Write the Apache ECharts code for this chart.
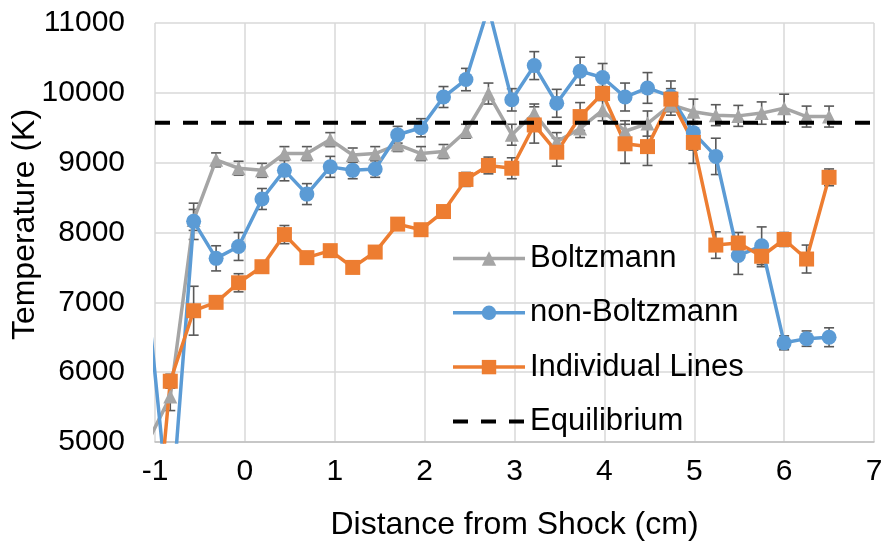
<!DOCTYPE html>
<html>
<head>
<meta charset="utf-8">
<script src="https://cdn.jsdelivr.net/npm/echarts@6/dist/echarts.min.js"></script>
<style>html,body{margin:0;padding:0;background:#fff}#c{width:884px;height:543px}</style>
</head>
<body>
<div id="c"></div>
<script>
// Distance from shock (cm); first point lies just left of the axis range
const distance = [-1.08, -0.83, -0.57, -0.32, -0.07, 0.19, 0.44, 0.69, 0.95, 1.2, 1.45, 1.7, 1.96, 2.21, 2.46, 2.71, 2.97, 3.22, 3.47, 3.73, 3.98, 4.23, 4.48, 4.74, 4.99, 5.24, 5.49, 5.75, 6.0, 6.25, 6.5];
const boltzmann = [5000, 5650, 8180, 9040, 8920, 8890, 9130, 9130, 9330, 9110, 9130, 9260, 9130, 9160, 9450, 9990, 9400, 9710, 9300, 9490, 9750, 9450, 9560, 9830, 9730, 9680, 9670, 9710, 9780, 9660, 9660];
const boltzmannErr = [null, 200, 150, 100, 100, 100, 100, 100, 100, 100, 100, 100, 100, 100, 100, 150, 150, 130, 130, 130, 150, 150, 180, 150, 180, 150, 150, 160, 200, 150, 150];
const nonBoltzmann = [7000, 3800, 8160, 7630, 7800, 8480, 8890, 8550, 8940, 8890, 8910, 9400, 9500, 9940, 10190, 11220, 9900, 10390, 9850, 10310, 10220, 9940, 10070, 9950, 9430, 9090, 7670, 7810, 6420, 6480, 6500];
const nonBoltzmannErr = [null, 150, 260, 180, 200, 150, 150, 150, 150, 120, 120, 120, 130, 150, 160, 150, 160, 200, 200, 200, 200, 200, 220, 220, 250, 260, 270, 270, 100, 110, 135];
const individualLines = [2400, 5870, 6880, 7000, 7280, 7510, 7970, 7640, 7740, 7500, 7720, 8120, 8040, 8300, 8760, 8960, 8920, 9540, 9150, 9660, 9990, 9270, 9230, 9910, 9290, 7820, 7850, 7660, 7900, 7620, 8790];
const individualLinesErr = [null, 100, 350, 80, 130, 80, 130, 60, 60, 60, 60, 60, 60, 60, 100, 120, 150, 260, 200, 200, 100, 280, 270, 150, 300, 190, 150, 150, 100, 200, 120];
const equilibriumX = [-1, 7];
const equilibrium = [9570, 9570];
const xTicks = [-1, 0, 1, 2, 3, 4, 5, 6, 7];
const yTicks = [5000, 6000, 7000, 8000, 9000, 10000, 11000];

const FONT = "'Liberation Sans', Arial, sans-serif";
const pts = (ys) => distance.map((x, i) => [x, ys[i]]);
const errPts = (ys, es) => distance.map((x, i) => es[i] == null ? null : [x, ys[i] - es[i], ys[i] + es[i]]).filter(Boolean);

function renderErr(params, api) {
  const x = api.value(0);
  const lo = api.coord([x, api.value(1)]);
  const hi = api.coord([x, api.value(2)]);
  const hw = 5;
  const st = { stroke: '#595959', lineWidth: 1.6 };
  return {
    type: 'group',
    children: [
      { type: 'line', shape: { x1: lo[0], y1: lo[1], x2: hi[0], y2: hi[1] }, style: st },
      { type: 'line', shape: { x1: lo[0] - hw, y1: lo[1], x2: lo[0] + hw, y2: lo[1] }, style: st },
      { type: 'line', shape: { x1: hi[0] - hw, y1: hi[1], x2: hi[0] + hw, y2: hi[1] }, style: st }
    ]
  };
}

const errSeries = (data) => ({
  type: 'custom', renderItem: renderErr, data: data, clip: true,
  encode: { x: 0, y: [1, 2] }, silent: true, z: 2
});

const lineSeries = (name, data, color, symbol, size) => ({
  name: name, type: 'line', data: data, symbol: symbol, symbolSize: size,
  showAllSymbol: true, clip: true,
  lineStyle: { color: color, width: 3.5 },
  itemStyle: { color: color },
  z: 3
});

const chart = echarts.init(document.getElementById('c'), null, { renderer: 'canvas' });
chart.setOption({
  animation: false,
  backgroundColor: '#fff',
  grid: { left: 155, right: 10, top: 23, bottom: 101, containLabel: false, outerBoundsMode: 'none' },
  xAxis: {
    type: 'value', min: xTicks[0], max: xTicks[xTicks.length - 1], interval: 1,
    name: 'Distance from Shock (cm)', nameLocation: 'middle', nameGap: 67, nameMoveOverlap: false,
    nameTextStyle: { fontSize: 32, color: '#000', fontFamily: FONT },
    axisLine: { show: true, lineStyle: { color: '#bfbfbf', width: 1.5 } },
    axisTick: { show: false },
    axisLabel: { fontSize: 30, color: '#000', fontFamily: FONT, margin: 15 },
    splitLine: { show: true, lineStyle: { color: '#d9d9d9', width: 1.5 } }
  },
  yAxis: {
    type: 'value', min: yTicks[0], max: yTicks[yTicks.length - 1], interval: 1000,
    name: 'Temperature (K)', nameLocation: 'middle', nameGap: 114, nameRotate: 90, nameMoveOverlap: false,
    nameTextStyle: { fontSize: 32, color: '#000', fontFamily: FONT, padding: [0, 0, 0, 16] },
    axisLine: { show: false },
    axisTick: { show: false },
    axisLabel: { fontSize: 30, color: '#000', fontFamily: FONT, margin: 30, formatter: (v) => String(v) },
    splitLine: { show: true, lineStyle: { color: '#d9d9d9', width: 1.5 } }
  },
  legend: {
    data: [
      { name: 'Boltzmann', lineStyle: { width: 3.5 } },
      { name: 'non-Boltzmann', lineStyle: { width: 3.5 } },
      { name: 'Individual Lines', lineStyle: { width: 3.5 } },
      { name: 'Equilibrium', lineStyle: { width: 4, type: [15, 13] }, itemStyle: { color: 'rgba(0,0,0,0)', opacity: 0 } }
    ],
    orient: 'vertical', left: 451, top: 243, padding: 0,
    itemWidth: 72, itemHeight: 18, itemGap: 23.3,
    textStyle: { fontSize: 31, color: '#000', fontFamily: FONT, lineHeight: 31 }
  },
  series: [
    errSeries(errPts(boltzmann, boltzmannErr)),
    lineSeries('Boltzmann', pts(boltzmann), '#A5A5A5', 'triangle', 14),
    errSeries(errPts(nonBoltzmann, nonBoltzmannErr)),
    lineSeries('non-Boltzmann', pts(nonBoltzmann), '#5B9BD5', 'circle', 15),
    errSeries(errPts(individualLines, individualLinesErr)),
    lineSeries('Individual Lines', pts(individualLines), '#ED7D31', 'rect', 15),
    {
      name: 'Equilibrium', type: 'line', symbol: 'none',
      data: equilibriumX.map((x, i) => [x, equilibrium[i]]),
      lineStyle: { color: '#000', width: 4, type: [15, 13] },
      itemStyle: { color: 'rgba(0,0,0,0)' }, z: 4
    }
  ]
});
</script>
</body>
</html>
